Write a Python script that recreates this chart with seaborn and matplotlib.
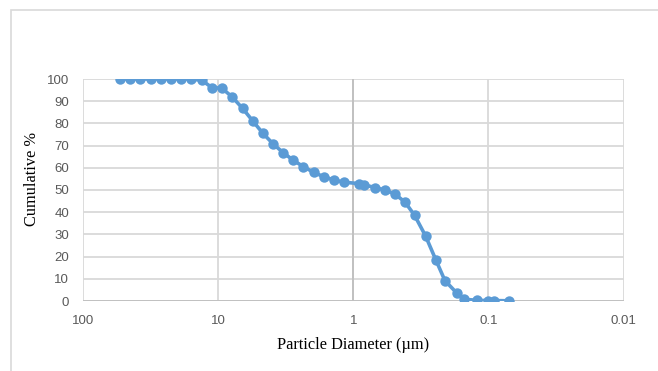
import pandas as pd
import matplotlib.pyplot as plt
import numpy as np
import seaborn as sb
from matplotlib.patches import Rectangle

# particle size distribution
diameter = [53.0, 44.6, 37.6, 31.6, 26.6, 22.3, 18.8, 15.8, 13.2, 11.1,
            9.4, 7.9, 6.6, 5.56, 4.69, 3.94, 3.30, 2.78, 2.34, 1.97,
            1.66, 1.39, 1.17, 0.91, 0.83, 0.69, 0.585, 0.493, 0.415, 0.352,
            0.292, 0.245, 0.210, 0.171, 0.152, 0.121, 0.101, 0.0906, 0.071]
cumulative = [100, 100, 100, 100, 100, 100, 100, 100, 99.4, 96.1,
              95.9, 92.0, 86.8, 81.2, 75.7, 70.9, 66.8, 63.4, 60.5, 58.0,
              56.0, 54.5, 53.5, 52.9, 52.3, 51.1, 50.0, 48.2, 44.6, 38.6,
              29.3, 18.5, 9.2, 3.5, 0.8, 0.3, 0.2, 0.2, 0.1]
x_ticks = [100, 10, 1, 0.1, 0.01]
x_tick_labels = ['100', '10', '1', '0.1', '0.01']
y_ticks = list(range(0, 101, 10))

df = pd.DataFrame({'diameter': diameter, 'cumulative': cumulative})

sb.set_style('white')
plt.rcParams['font.family'] = ['Liberation Sans', 'DejaVu Sans']

fig = plt.figure(figsize=(6.58, 3.71), dpi=100)
ax = fig.add_axes([83/658, 1-301/371, (623.6-83)/658, (301-79)/371])

# light frame around the chart
fig.patches.append(Rectangle((11/658, -0.05), 1.0, 1.05-10/371, transform=fig.transFigure,
                             fill=False, edgecolor='#D9D9D9', linewidth=1.2))

ax.set_xscale('log')
ax.grid(True, color='#D9D9D9', linewidth=1.3)
ax.set_axisbelow(True)
ax.axhline(0, color='#BFBFBF', linewidth=1.3, zorder=1)
ax.axvline(1, color='#BFBFBF', linewidth=1.3, zorder=1)

sb.lineplot(data=df, x='diameter', y='cumulative', ax=ax, color='#5B9BD5',
            linewidth=2.6, marker='o', markersize=7.5, markeredgewidth=0, sort=False, zorder=3)

ax.set_xlim(100, 0.01)
ax.set_ylim(0, 100)
ax.set_xticks(x_ticks)
ax.set_xticklabels(x_tick_labels)
ax.minorticks_off()
ax.set_yticks(y_ticks)
ax.tick_params(axis='both', length=0, labelsize=9.5, labelcolor='#595959')
ax.tick_params(axis='y', pad=10)
ax.tick_params(axis='x', pad=10)
for s in ax.spines.values():
    s.set_visible(False)

ax.set_xlabel('Particle Diameter (µm)', family=['Liberation Serif', 'DejaVu Serif'], fontsize=11.8, color='black')
ax.set_ylabel('Cumulative %', family=['Liberation Serif', 'DejaVu Serif'], fontsize=11.8, color='black')
ax.xaxis.set_label_coords(0.5, -(337-301)/222)
ax.yaxis.set_label_coords(-(83-40)/540.6, 0.55)

plt.savefig('out.png', dpi=100)
